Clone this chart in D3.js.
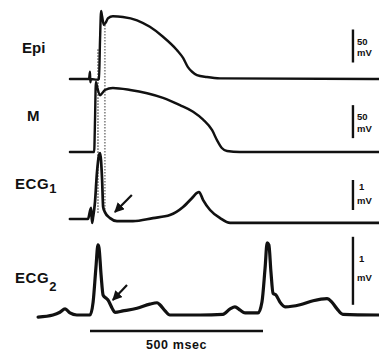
<!DOCTYPE html>
<html><head><meta charset="utf-8">
<script src="https://cdn.jsdelivr.net/npm/d3@7/dist/d3.min.js"></script>
<style>body{margin:0;background:#fff}svg{display:block}</style>
</head><body>
<svg id="c" width="379" height="352"></svg>
<script>
// ---- data (time in msec, potentials in mV) ----
const traceNames = ["Epi", "M", "ECG1", "ECG2"];
const epiT = [-58,-3,0,1,3,20,26,29,32,35,40,46,52,66,95,136,173,211,251,269,283,295,309,338,376,835];
const epiV = [-85,-85,-74,-90,-85,-86,-85,-26,18,10,-3,1,7,10,9,4,-6,-21,-41,-53,-67,-74,-79,-82,-84,-85];
const mT = [-58,12,14.5,17,20,29,35,43,66,116,165,211,260,298,327,353,367,381,396,433,835];
const mV = [-85,-85,-36,21,15,1,4,9,12,9,4,-3,-14,-24,-36,-52,-67,-79,-83.5,-85,-85];
const ecg1T = [-58,-6,3,6,9,14.5,20,26,29,35,38,43,58,78,124,182,231,269,295,309,315,327,347,376,405,835];
const ecg1V = [0,0,0.37,-0.13,0.07,0.57,1.53,2.13,2.2,1.3,0.4,0.23,0.03,-0.07,-0.07,0.03,0.13,0.4,0.7,0.87,0.9,0.63,0.3,0.03,-0.13,-0.13];
const ecg2T = [-150,-107,-87,-72,-58,-38,0,9,17,23,26,32,38,46,52,64,72,95,136,173,194,202,217,231,318,384,405,419,434,448,486,497,506,512,517,523,529,538,549,564,607,645,685,699,714,731,835];
const ecg2V = [-0.03,0,0.04,0.09,0.03,0,0,0.19,0.69,1.03,0.99,0.59,0.29,0.25,0.22,0.10,0.04,0.06,0.10,0.16,0.18,0.15,0.06,0,0,0.01,0.09,0.12,0.07,0.03,0.03,0.19,0.69,1.06,1.03,0.63,0.32,0.29,0.19,0.12,0.15,0.21,0.24,0.19,0.09,0.01,0];
const scaleBarValues = [[-60,-10],[-64,-14],[0.3,1.3],[0.15,1.15]];
const scaleBarLabels = ["50","50","1","1"];
const scaleBarUnits = ["mV","mV","mV","mV"];
const dottedTimes = [23, 43];
const arrowECG1 = {from:[121,0.8], to:[72,0.23]};
const arrowECG2 = {from:[107,0.44], to:[66,0.22]};
const timeBar = [0, 500];
const timeBarLabel = "500 msec";

// ---- scales ----
const x = d3.scaleLinear().domain([0,500]).range([90,263]);
const yEpi = d3.scaleLinear().domain([-85,-35]).range([79,46]);
const yM = d3.scaleLinear().domain([-85,-35]).range([152,119]);
const yE1 = d3.scaleLinear().domain([0,1]).range([219,189]);
const yE2 = d3.scaleLinear().domain([0,1]).range([315,247]);
const yScales = [yEpi, yM, yE1, yE2];
const series = [[epiT,epiV],[mT,mV],[ecg1T,ecg1V],[ecg2T,ecg2V]];
const widths = [2.4, 2.4, 2.7, 3.2];

const svg = d3.select("#c");
svg.append("rect").attr("width",379).attr("height",352).attr("fill","#fff");

// dotted reference lines
dottedTimes.forEach(t => {
  svg.append("line")
    .attr("x1", x(t)).attr("x2", x(t))
    .attr("y1", yEpi(t === 43 ? -3 : -40)).attr("y2", yE1(0.2))
    .attr("stroke", "#8f8f8f").attr("stroke-width", 1.8)
    .attr("stroke-dasharray", "1.6,1.4");
});

// traces
series.forEach(([T,V], i) => {
  const pts = T.map((t,k) => [t, V[k]]);
  const line = d3.line().x(d => x(d[0])).y(d => yScales[i](d[1])).curve(d3.curveMonotoneX);
  svg.append("path").datum(pts).attr("d", line)
    .attr("fill","none").attr("stroke","#111").attr("stroke-width", widths[i])
    .attr("stroke-linejoin","round").attr("stroke-linecap","round");
});

// scale bars
const barX = x(760);
scaleBarValues.forEach((b, i) => {
  const ys = yScales[i];
  svg.append("line").attr("x1", barX).attr("x2", barX)
    .attr("y1", ys(b[0])).attr("y2", ys(b[1]))
    .attr("stroke","#111").attr("stroke-width", 2.4);
});
const barLabelPos = [[45,56],[120,132],[190,204],[262,281]];
scaleBarLabels.forEach((lab, i) => {
  const g = svg.append("g").attr("font-family","Liberation Sans, Arial, sans-serif")
    .attr("font-weight","bold").attr("fill","#111");
  g.append("text").attr("x", barX + (lab.length>1 ? 4 : 6)).attr("y", barLabelPos[i][0])
    .attr("font-size", 9.5).text(lab);
  g.append("text").attr("x", barX + 4).attr("y", barLabelPos[i][1])
    .attr("font-size", 9.5).text(scaleBarUnits[i]);
});

// arrows
const defs = svg.append("defs");
defs.append("marker").attr("id","ah").attr("viewBox","0 0 10 10")
  .attr("refX",9).attr("refY",5).attr("markerWidth",4.5).attr("markerHeight",4.5)
  .attr("orient","auto").append("path").attr("d","M0,0 L10,5 L0,10 z").attr("fill","#111");
[[arrowECG1, yE1],[arrowECG2, yE2]].forEach(([a, ys]) => {
  svg.append("line")
    .attr("x1", x(a.from[0])).attr("y1", ys(a.from[1]))
    .attr("x2", x(a.to[0])).attr("y2", ys(a.to[1]))
    .attr("stroke","#111").attr("stroke-width",2.2).attr("marker-end","url(#ah)");
});

// time bar
svg.append("line").attr("x1", x(timeBar[0])).attr("x2", x(timeBar[1]))
  .attr("y1", 331).attr("y2", 331).attr("stroke","#111").attr("stroke-width",2.4);
svg.append("text").attr("x", x(250)).attr("y", 349).attr("text-anchor","middle")
  .attr("font-family","Liberation Sans, Arial, sans-serif").attr("font-weight","bold")
  .attr("font-size", 12.5).attr("letter-spacing", 0.6).attr("fill","#111").text(timeBarLabel);

// trace labels
const lab = svg.append("g").attr("font-family","Liberation Sans, Arial, sans-serif")
  .attr("font-weight","bold").attr("fill","#111");
lab.append("text").attr("x",22).attr("y",53).attr("font-size",15).text("Epi");
lab.append("text").attr("x",27).attr("y",121).attr("font-size",15).text("M");
const e1 = lab.append("text").attr("x",15).attr("y",189).attr("font-size",15).attr("letter-spacing",0.6);
e1.append("tspan").text("ECG");
e1.append("tspan").attr("dy",4).attr("font-size",13).text("1");
const e2 = lab.append("text").attr("x",15).attr("y",283).attr("font-size",15).attr("letter-spacing",0.6);
e2.append("tspan").text("ECG");
e2.append("tspan").attr("dy",8).attr("font-size",13).text("2");
</script>
</body></html>
